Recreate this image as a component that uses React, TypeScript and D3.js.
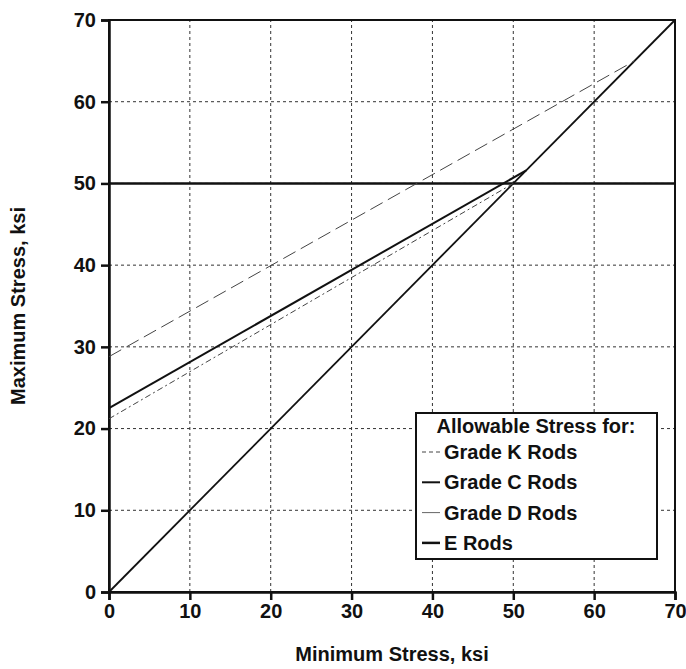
import React, { useEffect, useRef } from "react";
import * as d3 from "d3";

// values (ksi)
const ticks = [0, 10, 20, 30, 40, 50, 60, 70];
const gradeKMin = [0, 65];
const gradeKMax = [28.8, 65];
const gradeCMin = [0, 51.6];
const gradeCMax = [22.5, 51.6];
const gradeDMin = [0, 50];
const gradeDMax = [21.2, 50];
const eRodsMin = [0, 70];
const eRodsMax = [50, 50];
const equalMin = [0, 70];
const equalMax = [0, 70];

const legendItems = ["Grade K Rods", "Grade C Rods", "Grade D Rods", "E Rods"];

const FONT = "'Liberation Sans', Arial, sans-serif";

function App() {
  const svgRef = useRef<SVGSVGElement>(null);

  useEffect(() => {
    const svg = d3.select(svgRef.current);
    svg.selectAll("*").remove();

    const width = 686;
    const height = 669;
    const margin = { top: 20, right: 11, bottom: 77, left: 109 };

    const x = d3.scaleLinear().domain([0, 70]).range([margin.left, width - margin.right]);
    const y = d3.scaleLinear().domain([0, 70]).range([height - margin.bottom, margin.top]);

    svg.append("rect").attr("width", width).attr("height", height).attr("fill", "#fff");

    // grid
    const grid = svg.append("g").attr("stroke", "#333").attr("stroke-width", 1).attr("stroke-dasharray", "3,3");
    ticks.slice(1, -1).forEach(t => {
      grid.append("line").attr("x1", x(t)).attr("x2", x(t)).attr("y1", y(0)).attr("y2", y(70));
      grid.append("line").attr("x1", x(0)).attr("x2", x(70)).attr("y1", y(t)).attr("y2", y(t));
    });

    // frame
    svg.append("rect")
      .attr("x", x(0)).attr("y", y(70))
      .attr("width", x(70) - x(0)).attr("height", y(0) - y(70))
      .attr("fill", "none").attr("stroke", "#111").attr("stroke-width", 2);

    // axes
    const xAxis = svg.append("g")
      .attr("transform", `translate(0,${y(0)})`)
      .call(d3.axisBottom(x).tickValues(ticks).tickSize(8).tickPadding(4));
    const yAxis = svg.append("g")
      .attr("transform", `translate(${x(0)},0)`)
      .call(d3.axisLeft(y).tickValues(ticks).tickSize(8).tickPadding(5));
    [xAxis, yAxis].forEach(a => {
      a.select(".domain").attr("stroke", "#111").attr("stroke-width", 2.5);
      a.selectAll(".tick line").attr("stroke", "#111").attr("stroke-width", 2.5);
      a.selectAll(".tick text")
        .attr("font-family", FONT).attr("font-size", 20).attr("font-weight", "bold").attr("fill", "#111");
    });

    const line = d3.line<[number, number]>().x(d => x(d[0])).y(d => y(d[1]));
    const pts = (a: number[], b: number[]) => a.map((v, i) => [v, b[i]] as [number, number]);

    const series = [
      { d: pts(equalMin, equalMax), w: 1.8, c: "#111", dash: null },
      { d: pts(eRodsMin, eRodsMax), w: 2.5, c: "#111", dash: null },
      { d: pts(gradeKMin, gradeKMax), w: 1, c: "#444", dash: "14,6" },
      { d: pts(gradeDMin, gradeDMax), w: 1, c: "#444", dash: "6,3,2,3" },
      { d: pts(gradeCMin, gradeCMax), w: 2, c: "#111", dash: null }
    ];
    series.forEach(s => {
      svg.append("path")
        .attr("d", line(s.d))
        .attr("fill", "none")
        .attr("stroke", s.c)
        .attr("stroke-width", s.w)
        .attr("stroke-dasharray", s.dash);
    });

    // axis titles
    svg.append("text")
      .attr("x", (x(0) + x(70)) / 2).attr("y", 661)
      .attr("text-anchor", "middle")
      .attr("font-family", FONT).attr("font-size", 20).attr("font-weight", "bold").attr("fill", "#111")
      .text("Minimum Stress, ksi");
    svg.append("text")
      .attr("transform", `translate(25,${(y(0) + y(70)) / 2}) rotate(-90)`)
      .attr("text-anchor", "middle")
      .attr("font-family", FONT).attr("font-size", 20).attr("font-weight", "bold").attr("fill", "#111")
      .text("Maximum Stress, ksi");

    // legend
    const lg = svg.append("g").attr("transform", "translate(416,413)");
    lg.append("rect").attr("width", 241).attr("height", 146)
      .attr("fill", "#fff").attr("stroke", "#111").attr("stroke-width", 2);
    lg.append("text").attr("x", 120).attr("y", 20)
      .attr("text-anchor", "middle")
      .attr("font-family", FONT).attr("font-size", 20).attr("font-weight", "bold").attr("fill", "#111")
      .text("Allowable Stress for:");
    const swatch = [
      { w: 1, c: "#444", dash: "4,3" },
      { w: 2, c: "#111", dash: null },
      { w: 1, c: "#666", dash: null },
      { w: 2.5, c: "#111", dash: null }
    ];
    legendItems.forEach((name, i) => {
      const cy = 39 + i * 30.3;
      lg.append("line").attr("x1", 6).attr("x2", 24).attr("y1", cy).attr("y2", cy)
        .attr("stroke", swatch[i].c).attr("stroke-width", swatch[i].w)
        .attr("stroke-dasharray", swatch[i].dash);
      lg.append("text").attr("x", 28).attr("y", cy + 7)
        .attr("font-family", FONT).attr("font-size", 20).attr("font-weight", "bold").attr("fill", "#111")
        .text(name);
    });
  });

  return (
    <svg
      ref={svgRef}
      width={686}
      height={669}
      style={{ position: "absolute", left: 0, top: 0, display: "block" }}
    />
  );
}

export default App;
